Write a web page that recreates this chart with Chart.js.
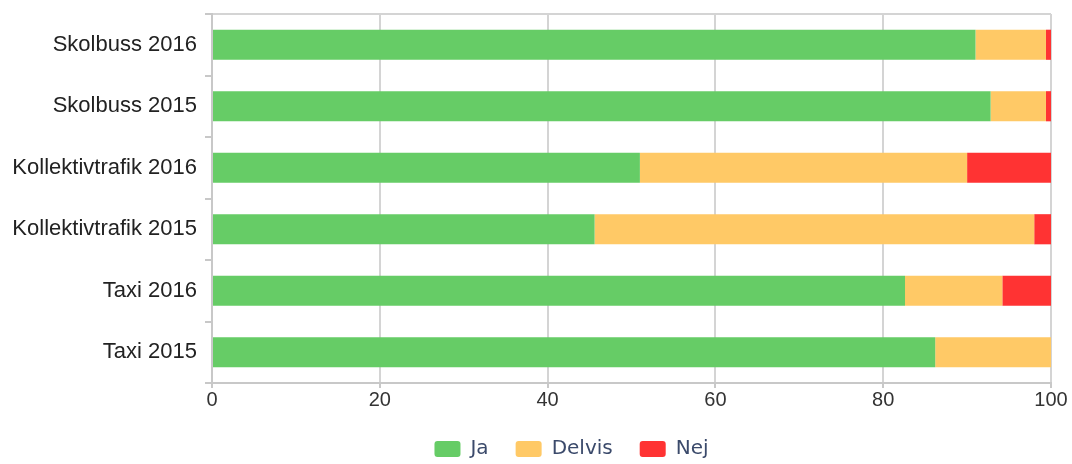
<!DOCTYPE html>
<html>
<head>
<meta charset="utf-8">
<script src="https://cdn.jsdelivr.net/npm/chart.js@4"></script>
<style>
  html, body { margin: 0; padding: 0; background: #ffffff; }
  #wrap { width: 1072px; height: 464px; position: relative; }
</style>
</head>
<body>
<div id="wrap"><canvas id="c"></canvas></div>
<script>
const categories = ['Skolbuss 2016', 'Skolbuss 2015', 'Kollektivtrafik 2016', 'Kollektivtrafik 2015', 'Taxi 2016', 'Taxi 2015'];
const seriesNames = ['Ja', 'Delvis', 'Nej'];
const jaValues = [91.0, 92.8, 51.0, 45.6, 82.6, 86.2];
const delvisValues = [8.4, 6.6, 39.0, 52.4, 11.6, 13.8];
const nejValues = [0.6, 0.6, 10.0, 2.0, 5.8, 0.0];
const xTicks = [0, 20, 40, 60, 80, 100];

const gridGray = '#d4d4d4';
const axisGray = '#c8c8c8';

// moves the legend block slightly right, as in the reference
const legendShift = {
  id: 'legendShift',
  afterLayout(chart) {
    const l = chart.legend;
    if (l) { l.left += 42; l.right += 42; }
  }
};

new Chart(document.getElementById('c'), {
  type: 'bar',
  data: {
    labels: categories,
    datasets: [
      { label: seriesNames[0], data: jaValues, backgroundColor: '#66cc66' },
      { label: seriesNames[1], data: delvisValues, backgroundColor: '#ffc966' },
      { label: seriesNames[2], data: nejValues, backgroundColor: '#ff3333' }
    ]
  },
  plugins: [legendShift],
  options: {
    indexAxis: 'y',
    responsive: true,
    maintainAspectRatio: false,
    animation: false,
    datasets: { bar: { barPercentage: 0.49, categoryPercentage: 1.0 } },
    layout: { padding: { left: 8, right: 21, top: 14, bottom: -5 } },
    plugins: {
      tooltip: { enabled: false },
      legend: {
        position: 'bottom',
        labels: {
          boxWidth: 26,
          boxHeight: 16,
          useBorderRadius: true,
          borderRadius: 3,
          padding: 27,
          color: '#3b4a6b',
          font: { family: '"DejaVu Sans", sans-serif', size: 20 }
        }
      }
    },
    scales: {
      x: {
        stacked: true,
        min: 0,
        max: 100,
        afterBuildTicks: (scale) => { scale.ticks = xTicks.map(v => ({ value: v })); },
        grid: { color: gridGray, lineWidth: 2, tickLength: 5, tickColor: axisGray },
        border: { color: axisGray, width: 2 },
        ticks: {
          color: '#333333',
          padding: 0,
          font: { family: '"Liberation Sans", Arial, sans-serif', size: 20 }
        }
      },
      y: {
        stacked: true,
        afterFit: (scale) => { scale.width = 204; scale.paddingTop = 0; scale.paddingBottom = 0; },
        grid: {
          offset: true,
          color: (ctx) => ctx.index === 0 ? gridGray : 'rgba(0,0,0,0)',
          lineWidth: 2,
          tickLength: 7,
          tickColor: axisGray
        },
        border: { color: axisGray, width: 2 },
        ticks: {
          color: '#222222',
          padding: 8,
          font: { family: '"Liberation Sans", Arial, sans-serif', size: 22 }
        }
      }
    }
  }
});
</script>
</body>
</html>
